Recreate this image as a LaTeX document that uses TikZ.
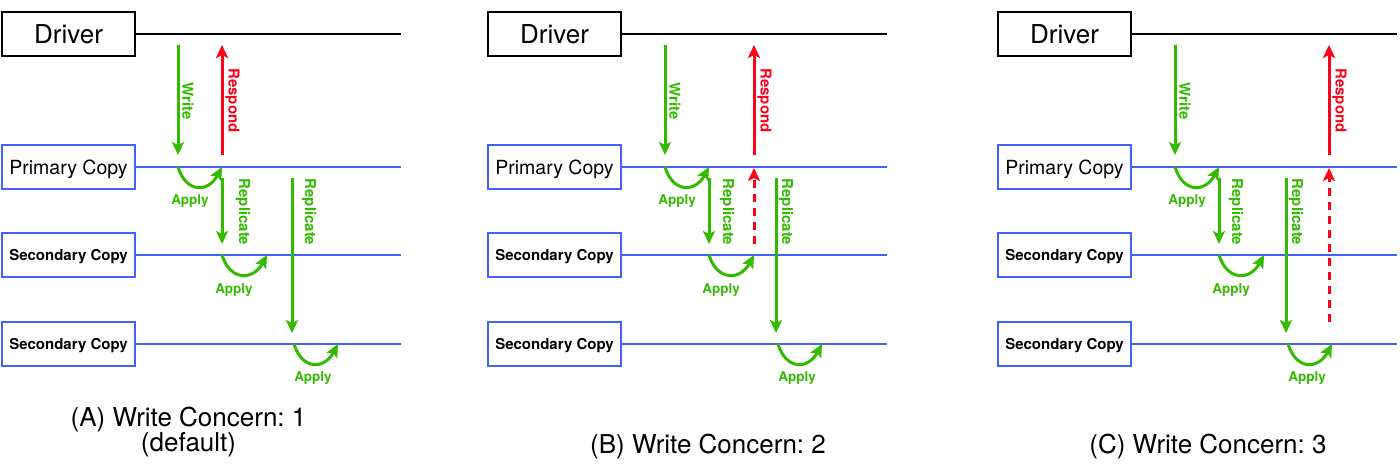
\documentclass[tikz,border=0pt]{standalone}
\usepackage{fontspec}
\setmainfont{TeX Gyre Heros}
\usetikzlibrary{arrows.meta}
\usetikzlibrary{calc,positioning}
\frenchspacing

\definecolor{cpblue}{RGB}{66,98,255}
\definecolor{wrgreen}{RGB}{51,187,0}
\definecolor{rsred}{RGB}{255,0,24}

\begin{document}
\begin{tikzpicture}[x=1pt,y=-1pt,>={Stealth[length=13pt,width=12pt,inset=3pt]},
  drvbox/.style={draw=black,line width=2.5pt,minimum width=133pt,minimum height=44pt,inner sep=0pt,font=\fontsize{26}{30}\selectfont},
  copybox/.style={draw=cpblue,line width=2.5pt,minimum width=133pt,minimum height=44pt,inner sep=0pt,text depth=0pt,font=\fontsize{19.5}{23}\selectfont},
  secbox/.style={copybox,font=\bfseries\fontsize{15}{18}\selectfont},
  drvline/.style={black,line width=2.5pt},
  cpline/.style={cpblue,line width=2.5pt},
  grarrow/.style={->,wrgreen,line width=3pt},
  rdarrow/.style={->,rsred,line width=3pt},
  vlabel/.style={rotate=-90,font=\bfseries\fontsize{15}{18}\selectfont,inner sep=1pt},
  aplabel/.style={wrgreen,font=\bfseries\fontsize{13.5}{16}\selectfont,inner sep=1pt},
  wccaption/.style={font=\fontsize{26}{25}\selectfont,align=center}]
    \useasboundingbox (0,0) rectangle (1400,475);
    % the three panels: boxes and their time lines
    \foreach \ox/\p in {0/A,486/B,996/C}{
        \node[drvbox] (drv\p) at (\ox+68.5,34) {Driver};
        \node[copybox] (pri\p) at (\ox+68.5,167) {Primary Copy};
        \node[secbox] (secone\p) at (\ox+68.5,255) {Secondary Copy};
        \node[secbox] (sectwo\p) at (\ox+68.5,344) {Secondary Copy};
        \draw[drvline] (drv\p.east) -- ++(265,0);
        \draw[cpline] (pri\p.east) -- ++(265,0);
        \draw[cpline] (secone\p.east) -- ++(265,0);
        \draw[cpline] (sectwo\p.east) -- ++(265,0);
    }
    % write, respond, apply and replicate arrows of each panel
    \foreach \p/\w/\ra/\rb/\rs/\la/\lb in {A/178/222/292/222/243/309,B/665/709/776/754/727/786,C/1175/1219/1286/1329/1236/1296}{
        \coordinate (wrtop\p) at (\w,45);
        \coordinate (wrbot\p) at (\w,155);
        \draw[grarrow] (wrtop\p) -- (wrbot\p);
        \node[vlabel,wrgreen] (wrlab\p) at (\w+10,101) {Write};
        \coordinate (rsbot\p) at (\rs,155);
        \coordinate (rstop\p) at (\rs,45);
        \draw[rdarrow] (rsbot\p) -- (rstop\p);
        \node[vlabel,rsred] (rslab\p) at (\rs+10.5,100.5) {Respond};
        % apply on the primary
        \coordinate (apa\p) at (\w,167);
        \coordinate (apb\p) at (\ra,167);
        \draw[grarrow] (apa\p) .. controls +(8,26) and +(-14,26) .. (apb\p);
        \node[aplabel] (aplaba\p) at (\w+12,201) {Apply};
        % replicate to the first secondary
        \coordinate (rpatop\p) at (\ra,178);
        \coordinate (rpabot\p) at (\ra,244);
        \draw[grarrow] (rpatop\p) -- (rpabot\p);
        \node[vlabel,wrgreen] (rplaba\p) at (\la,212) {Replicate};
        \coordinate (apc\p) at (\ra,255);
        \coordinate (apd\p) at (\ra+45,255);
        \draw[grarrow] (apc\p) .. controls +(8,26) and +(-14,26) .. (apd\p);
        \node[aplabel] (aplabb\p) at (\ra+12,290) {Apply};
        % replicate to the second secondary
        \coordinate (rpbtop\p) at (\rb,178);
        \coordinate (rpbbot\p) at (\rb,333);
        \draw[grarrow] (rpbtop\p) -- (rpbbot\p);
        \node[vlabel,wrgreen] (rplabb\p) at (\lb,212) {Replicate};
        \coordinate (ape\p) at (\rb+2,344);
        \coordinate (apf\p) at (\rb+46,344);
        \draw[grarrow] (ape\p) .. controls +(8,26) and +(-14,26) .. (apf\p);
        \node[aplabel] (aplabc\p) at (\rb+21,378) {Apply};
    }
    % acknowledgements from the secondaries
    \coordinate (ackbotB) at (754,244);
    \coordinate (acktopB) at (754,168);
    \draw[rdarrow,dash pattern=on 8pt off 6pt] (ackbotB) -- (acktopB);
    \coordinate (ackbotC) at (1329,322);
    \coordinate (acktopC) at (1329,168);
    \draw[rdarrow,dash pattern=on 8pt off 6pt] (ackbotC) -- (acktopC);
    % captions
    \node[wccaption] (capA) at (188.5,432.5) {(A) Write Concern: 1\\(default)};
    \node[wccaption] (capB) at (708,447) {(B) Write Concern: 2};
    \node[wccaption] (capC) at (1208,447) {(C) Write Concern: 3};
\end{tikzpicture}
\end{document}
